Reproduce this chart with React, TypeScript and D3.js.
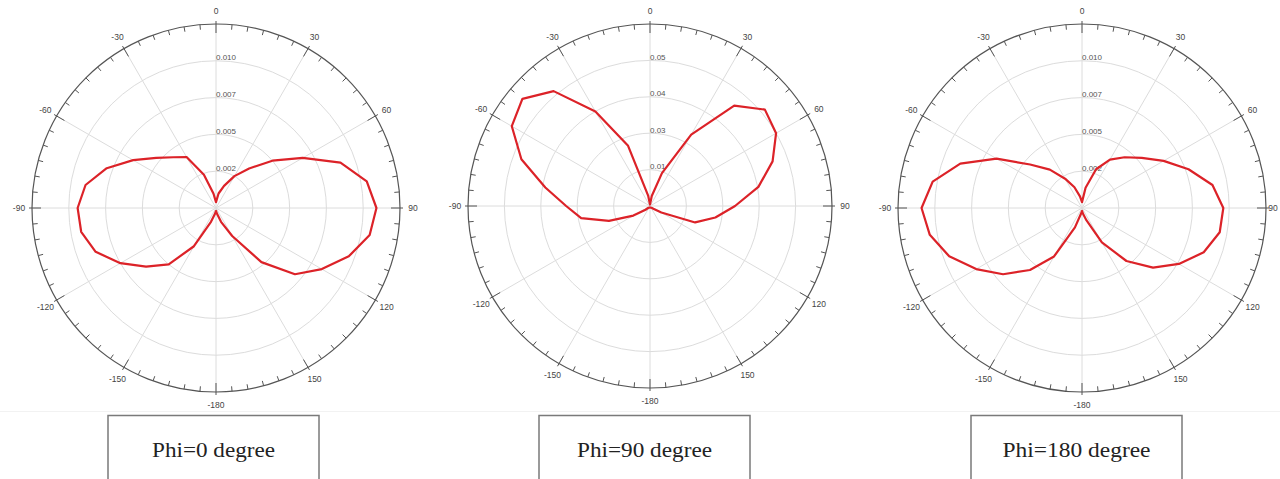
import React from "react";
import * as d3 from "d3";

const angles = [-180, -170, -160, -150, -140, -130, -120, -110, -100, -90, -80, -70, -60, -50, -40, -30, -20, -10, 0, 10, 20, 30, 40, 50, 60, 70, 80, 90, 100, 110, 120, 130, 140, 150, 160, 170, 180];

const phi0Values = [0.0002, 0.0004, 0.0010, 0.0030, 0.0050, 0.0062, 0.0075, 0.0087, 0.0093, 0.0094, 0.0090, 0.0079, 0.0065, 0.0053, 0.0045, 0.0040, 0.0024, 0.0010, 0.0004, 0.0010, 0.0016, 0.0025, 0.0035, 0.0050, 0.0068, 0.0090, 0.0104, 0.0109, 0.0106, 0.0096, 0.0083, 0.0070, 0.0048, 0.0022, 0.0010, 0.0004, 0.0002];

const phi90Values = [0.0005, 0.0006, 0.0006, 0.0007, 0.0008, 0.0020, 0.0066, 0.0150, 0.0240, 0.0288, 0.0365, 0.0470, 0.0548, 0.0572, 0.0515, 0.0375, 0.0220, 0.0035, 0.0005, 0.0035, 0.0120, 0.0283, 0.0450, 0.0515, 0.0500, 0.0448, 0.0378, 0.0292, 0.0228, 0.0165, 0.0045, 0.0015, 0.0008, 0.0007, 0.0006, 0.0006, 0.0005];

const phi180Values = [0.0002, 0.0004, 0.0014, 0.0038, 0.0055, 0.0070, 0.0083, 0.0096, 0.0105, 0.0109, 0.0103, 0.0088, 0.0067, 0.0046, 0.0034, 0.0023, 0.0015, 0.0008, 0.0004, 0.0014, 0.0028, 0.0038, 0.0045, 0.0053, 0.0064, 0.0077, 0.0090, 0.0096, 0.0095, 0.0088, 0.0076, 0.0063, 0.0047, 0.0027, 0.0009, 0.0004, 0.0002];

const angleTicks = [0, 30, 60, 90, 120, 150, 180, -150, -120, -90, -60, -30];
const angleTickLabels = ["0", "30", "60", "90", "120", "150", "-180", "-150", "-120", "-90", "-60", "-30"];

const ringsSmall = [0.0025, 0.005, 0.0075, 0.01, 0.0125];
const ringLabelsSmall = ["0.002", "0.005", "0.007", "0.010"];
const ringsLarge = [0.0125, 0.025, 0.0375, 0.05, 0.0625];
const ringLabelsLarge = ["0.01", "0.03", "0.04", "0.05"];

const captions = ["Phi=0 degree", "Phi=90 degree", "Phi=180 degree"];

const SANS = '"Liberation Sans", Arimo, Arial, sans-serif';
const SERIF = '"Liberation Serif", Tinos, "Times New Roman", Times, serif';

type PanelProps = {
  cx: number;
  cy: number;
  R: number;
  values: number[];
  rings: number[];
  ringLabels: string[];
  caption: string;
  boxX: number;
  boxW: number;
  textW: number;
};

const minorTicks = d3.range(-180, 180, 5);

function Panel({ cx, cy, R, values, rings, ringLabels, caption, boxX, boxW, textW }: PanelProps) {
  const rScale = d3.scaleLinear().domain([0, rings[rings.length - 1]]).range([0, R]);
  const toRad = (deg: number) => (deg * Math.PI) / 180;
  const pts = angles.map((a, i) => ({ a, v: values[i] }));
  const line = d3
    .lineRadial<{ a: number; v: number }>()
    .angle((d) => toRad(d.a))
    .radius((d) => rScale(d.v))
    .curve(d3.curveLinearClosed);
  const px = (deg: number, r: number) => [Math.sin(toRad(deg)) * r, -Math.cos(toRad(deg)) * r];
  return (
    <g>
      <g transform={`translate(${cx},${cy})`}>
        {rings.slice(0, -1).map((v, i) => (
          <circle key={"r" + i} r={rScale(v)} fill="none" stroke="#dcdcdc" strokeWidth={1} />
        ))}
        {angleTicks.map((a, i) => {
          const [x, y] = px(a, R);
          return <line key={"s" + i} x1={0} y1={0} x2={x} y2={y} stroke="#dcdcdc" strokeWidth={1} />;
        })}
        <circle r={R} fill="none" stroke="#555" strokeWidth={1.2} />
        {minorTicks.map((a) => {
          const major = a % 30 === 0;
          const [x1, y1] = px(a, major ? R + 3 : R);
          const [x2, y2] = px(a, major ? R - 9 : R - 5);
          return <line key={"t" + a} x1={x1} y1={y1} x2={x2} y2={y2} stroke="#555" strokeWidth={1} />;
        })}
        {angleTicks.map((a, i) => {
          let [x, y] = px(a, R + 13);
          const maxX = 1279 - cx - 6;
          if (x > maxX) x = maxX;
          return (
            <text key={"al" + i} x={x} y={y} textAnchor="middle" dominantBaseline="central" fontSize={8.5} fill="#444" style={{ fontFamily: SANS }}>
              {angleTickLabels[i]}
            </text>
          );
        })}
        {ringLabels.map((lab, i) => (
          <text key={"rl" + i} x={0} y={-rScale(rings[i]) - 0.5} textAnchor="start" fontSize={8} fill="#555" style={{ fontFamily: SANS }}>
            {lab}
          </text>
        ))}
        <path d={line(pts) || ""} fill="none" stroke="#dc2228" strokeWidth={2.2} strokeLinejoin="round" />
      </g>
      <rect x={boxX} y={415.5} width={boxW} height={80} fill="#fff" stroke="#7a7a7a" strokeWidth={1.5} />
      <text x={boxX + boxW / 2} y={457} textAnchor="middle" fontSize={21} fill="#222" style={{ fontFamily: SERIF }} textLength={textW} lengthAdjust="spacingAndGlyphs">
        {caption}
      </text>
    </g>
  );
}

export default function App() {
  return (
    <svg width={1280} height={479} style={{ position: "absolute", left: 0, top: 0, background: "#fff" }}>
      <rect width={1280} height={479} fill="#fff" />
      <line x1={0} x2={1280} y1={411.5} y2={411.5} stroke="#f2f2f2" strokeWidth={1} />
      <Panel cx={216} cy={208} R={184} values={phi0Values} rings={ringsSmall} ringLabels={ringLabelsSmall} caption={captions[0]} boxX={108} boxW={211} textW={123} />
      <Panel cx={650} cy={206} R={182} values={phi90Values} rings={ringsLarge} ringLabels={ringLabelsLarge} caption={captions[1]} boxX={539} boxW={211} textW={135} />
      <Panel cx={1082} cy={208} R={184} values={phi180Values} rings={ringsSmall} ringLabels={ringLabelsSmall} caption={captions[2]} boxX={971} boxW={211} textW={148} />
    </svg>
  );
}
